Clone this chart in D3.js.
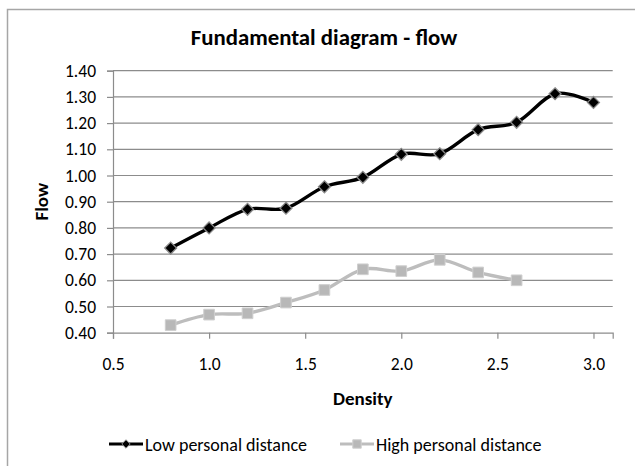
<!DOCTYPE html>
<html>
<head>
<meta charset="utf-8">
<script src="https://cdn.jsdelivr.net/npm/d3@7"></script>
<style>
  html, body { margin: 0; padding: 0; background: #ffffff; }
  svg { display: block; }
  text { font-family: Carlito, Calibri, Lato, sans-serif; fill: #000; }
</style>
</head>
<body>
<svg id="chart" width="635" height="466"></svg>
<script>
// Measurements: density (x) and flow (y) for the two personal-distance settings
const density = [0.8, 1.0, 1.2, 1.4, 1.6, 1.8, 2.0, 2.2, 2.4, 2.6, 2.8, 3.0];
const lowFlow = [0.723, 0.800, 0.871, 0.875, 0.957, 0.993, 1.081, 1.083, 1.175, 1.203, 1.312, 1.279];
const highFlow = [0.429, 0.469, 0.474, 0.515, 0.563, 0.642, 0.635, 0.678, 0.630, 0.600];

const seriesNames = ["Low personal distance", "High personal distance"];
const xTicks = [0.5, 1.0, 1.5, 2.0, 2.5, 3.0];
const yTicks = [0.40, 0.50, 0.60, 0.70, 0.80, 0.90, 1.00, 1.10, 1.20, 1.30, 1.40];
const chartTitle = "Fundamental diagram - flow";
const xTitle = "Density";
const yTitle = "Flow";

const svg = d3.select("#chart");
const plot = { left: 113, right: 612.7, top: 70.7, bottom: 332.7 };

const x = d3.scaleLinear().domain([0.5, 3.1]).range([plot.left, plot.right]);
const y = d3.scaleLinear().domain([0.40, 1.40]).range([plot.bottom, plot.top]);

const gridColor = "#8c8c8c";

// outer chart frame
svg.append("rect")
  .attr("x", 7.5).attr("y", 9.5).attr("width", 700).attr("height", 500)
  .attr("fill", "none").attr("stroke", "#a6a6a6").attr("stroke-width", 1.5);

// title
svg.append("text")
  .attr("x", 324).attr("y", 45)
  .attr("text-anchor", "middle")
  .style("font-size", "22.8px").style("font-weight", "bold")
  .text(chartTitle);

// horizontal gridlines
svg.append("g").selectAll("line").data(yTicks.slice(1)).join("line")
  .attr("x1", plot.left).attr("x2", plot.right)
  .attr("y1", d => y(d)).attr("y2", d => y(d))
  .attr("stroke", gridColor).attr("stroke-width", 1.2);

// y axis
const yAxis = svg.append("g")
  .attr("transform", `translate(${plot.left},0)`)
  .call(d3.axisLeft(y).tickValues(yTicks).tickFormat(d3.format(".2f")).tickSize(6).tickPadding(11));
// x axis
const xAxis = svg.append("g")
  .attr("transform", `translate(0,${plot.bottom})`)
  .call(d3.axisBottom(x).tickValues(xTicks).tickFormat(d3.format(".1f")).tickSize(6).tickPadding(19));

[yAxis, xAxis].forEach(a => {
  a.select(".domain").attr("stroke", gridColor).attr("stroke-width", 1.2);
  a.selectAll(".tick line").attr("stroke", gridColor).attr("stroke-width", 1.2);
  a.selectAll(".tick text").style("font-size", "17.5px").style("font-family", "Carlito, Calibri, Lato, sans-serif").attr("fill", "#000");
});

// axis titles
svg.append("text")
  .attr("x", (plot.left + plot.right) / 2).attr("y", 405)
  .attr("text-anchor", "middle")
  .style("font-size", "19px").style("font-weight", "bold")
  .text(xTitle);
svg.append("text")
  .attr("transform", `translate(48,${(plot.top + plot.bottom) / 2}) rotate(-90)`)
  .attr("text-anchor", "middle")
  .style("font-size", "19px").style("font-weight", "bold")
  .text(yTitle);

// smoothed lines
const line = d3.line()
  .x(d => x(d[0])).y(d => y(d[1]))
  .curve(d3.curveCardinal.tension(0));

const lowPts = density.map((d, i) => [d, lowFlow[i]]);
const highPts = highFlow.map((v, i) => [density[i], v]);

const lowColor = "#000000";
const highColor = "#bdbdbd";

svg.append("path").datum(highPts)
  .attr("d", line).attr("fill", "none")
  .attr("stroke", highColor).attr("stroke-width", 3.4).attr("stroke-linejoin", "round");
svg.append("path").datum(lowPts)
  .attr("d", line).attr("fill", "none")
  .attr("stroke", lowColor).attr("stroke-width", 3.4).attr("stroke-linejoin", "round");

const diamond = d3.symbol().type(d3.symbolDiamond2).size(90);
const square = d3.symbol().type(d3.symbolSquare2).size(145);

svg.append("g").selectAll("path").data(highPts).join("path")
  .attr("transform", d => `translate(${x(d[0])},${y(d[1])})`)
  .attr("d", square)
  .attr("fill", "#b8b8b8").attr("stroke", "#cfcfcf").attr("stroke-width", 1);

svg.append("g").selectAll("path").data(lowPts).join("path")
  .attr("transform", d => `translate(${x(d[0])},${y(d[1])})`)
  .attr("d", diamond)
  .attr("fill", "#000").attr("stroke", "#8a8a8a").attr("stroke-width", 1.3);

// legend
const legendY = 444;
const legend = [
  { name: seriesNames[0], x0: 109, color: lowColor, sym: d3.symbol().type(d3.symbolDiamond2).size(45), fill: "#000", stroke: "#8a8a8a" },
  { name: seriesNames[1], x0: 340, color: highColor, sym: d3.symbol().type(d3.symbolSquare2).size(90), fill: "#b8b8b8", stroke: "#cfcfcf" }
];
const lg = svg.append("g").selectAll("g").data(legend).join("g");
lg.append("line")
  .attr("x1", d => d.x0).attr("x2", d => d.x0 + 34)
  .attr("y1", legendY).attr("y2", legendY)
  .attr("stroke", d => d.color).attr("stroke-width", 3.2);
lg.append("path")
  .attr("transform", d => `translate(${d.x0 + 17},${legendY})`)
  .attr("d", d => d.sym())
  .attr("fill", d => d.fill).attr("stroke", d => d.stroke).attr("stroke-width", 1);
lg.append("text")
  .attr("x", d => d.x0 + 36).attr("y", legendY + 6.5)
  .style("font-size", "18px")
  .text(d => d.name);
</script>
</body>
</html>
